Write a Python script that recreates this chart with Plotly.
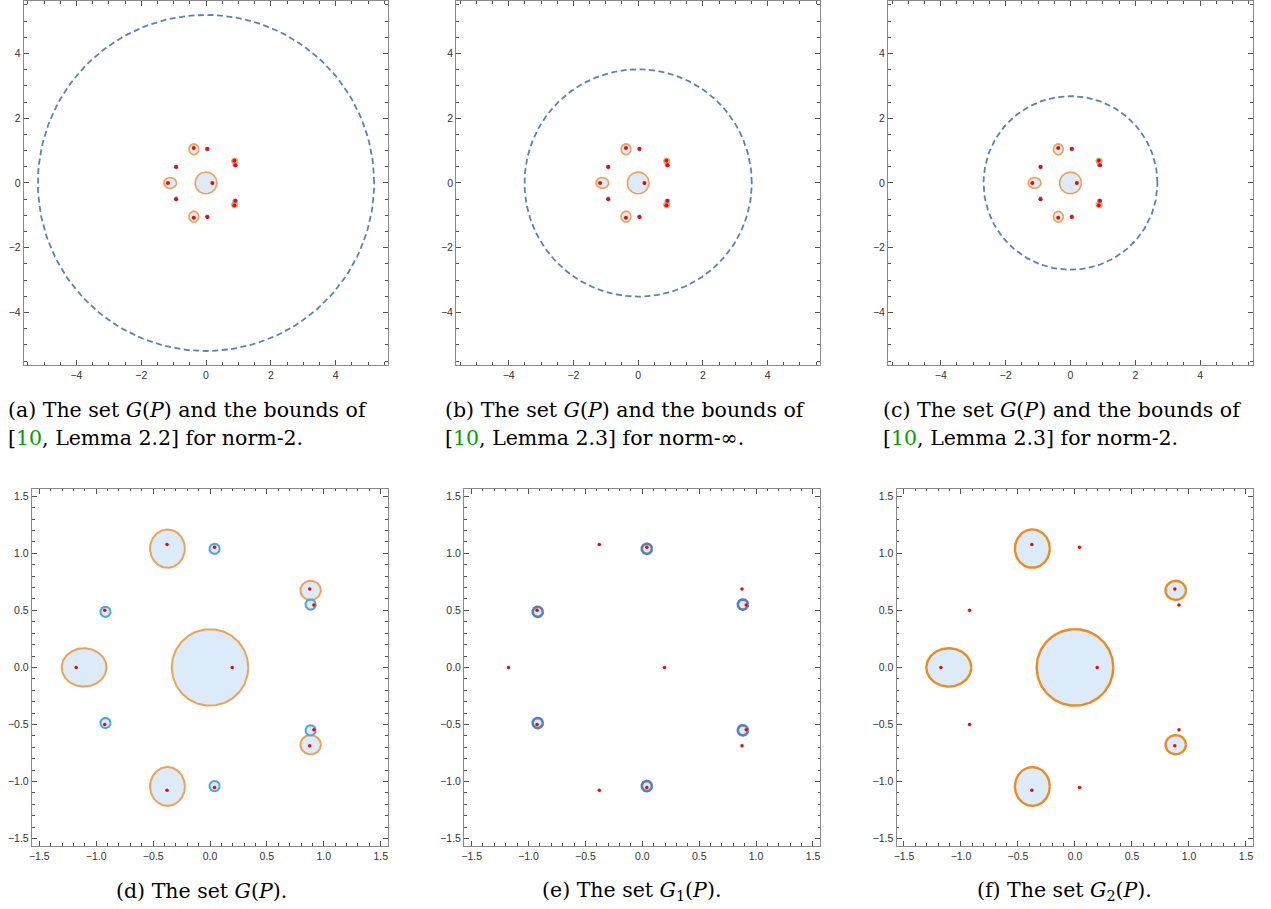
import numpy as np
import plotly.graph_objects as go

# Zeros of P (red dots)
roots_re = [0.195, -1.176, -0.378, -0.378, 0.04, 0.04, -0.925, -0.925, 0.876, 0.876, 0.913, 0.913]
roots_im = [0.0, 0.0, 1.077, -1.077, 1.053, -1.053, 0.5, -0.5, 0.686, -0.686, 0.546, -0.546]

# Components of G2(P): ellipse centres and semi-axes
g2_cx = [0.0, -1.107, -0.374, -0.374, 0.884, 0.884]
g2_cy = [0.0, 0.0, 1.041, -1.043, 0.675, -0.677]
g2_rx = [0.336, 0.197, 0.153, 0.153, 0.090, 0.090]
g2_ry = [0.335, 0.168, 0.168, 0.170, 0.084, 0.084]

# Components of G1(P): small discs
g1_cx = [0.04, 0.04, -0.919, -0.919, 0.884, 0.884]
g1_cy = [1.039, -1.039, 0.487, -0.487, 0.551, -0.551]
g1_r = [0.045, 0.045, 0.045, 0.045, 0.045, 0.045]

# Radii of the root bounds drawn in panels (a), (b), (c)
bound_r = [5.19, 3.51, 2.68]

FILL = "#DCEBFA"
ORANGE_LIGHT = "#F0A24F"
ORANGE_DARK = "#F08A1C"
BLUE_LIGHT = "#4AA8E0"
BLUE_DARK = "#5B80B8"
DASH_BLUE = "#5E81B5"

W, H = 1271, 909

# plot frames in pixels: (left, right, top, bottom)
frames = [
    (21, 386, 0, 364.3),
    (454.3, 819, 0, 364.3),
    (887.3, 1252.7, 0, 364.3),
    (29, 386, 488.3, 846),
    (462.3, 819.3, 488.3, 846),
    (895.7, 1253.3, 488.3, 846),
]

theta = np.linspace(0, 2 * np.pi, 181)


def ellipse_path(cx, cy, rx, ry):
    xs, ys = [], []
    for a, b, u, v in zip(cx, cy, rx, ry):
        xs += list(a + u * np.cos(theta)) + [None]
        ys += list(b + v * np.sin(theta)) + [None]
    return xs, ys


fig = go.Figure()


def add_set(idx, cx, cy, rx, ry, color, width):
    xs, ys = ellipse_path(cx, cy, rx, ry)
    ax = "" if idx == 1 else str(idx)
    fig.add_trace(go.Scatter(
        x=xs, y=ys, mode="lines", fill="toself", fillcolor=FILL,
        line=dict(color=color, width=width), xaxis="x" + ax, yaxis="y" + ax,
        hoverinfo="skip", showlegend=False))


def add_roots(idx, size):
    ax = "" if idx == 1 else str(idx)
    fig.add_trace(go.Scatter(
        x=roots_re, y=roots_im, mode="markers",
        marker=dict(color="#FF0000", size=size, line=dict(width=0)),
        xaxis="x" + ax, yaxis="y" + ax, showlegend=False))


# top row: G(P) with the bound circles
for i in range(3):
    idx = i + 1
    ax = "" if idx == 1 else str(idx)
    add_set(idx, g2_cx, g2_cy, g2_rx, g2_ry, ORANGE_LIGHT, 1.6)
    add_set(idx, g1_cx, g1_cy, g1_r, g1_r, BLUE_LIGHT, 1.6)
    add_roots(idx, 4)
    r = bound_r[i]
    fig.add_trace(go.Scatter(
        x=list(r * np.cos(theta)), y=list(r * np.sin(theta)), mode="lines",
        line=dict(color=DASH_BLUE, width=1.8, dash="6px,3.5px"),
        xaxis="x" + ax, yaxis="y" + ax, hoverinfo="skip", showlegend=False))

# (d) G(P)
add_set(4, g2_cx, g2_cy, g2_rx, g2_ry, ORANGE_LIGHT, 2.0)
add_set(4, g1_cx, g1_cy, g1_r, g1_r, BLUE_LIGHT, 2.0)
add_roots(4, 3.5)
# (e) G1(P)
add_set(5, g1_cx, g1_cy, g1_r, g1_r, BLUE_DARK, 2.6)
add_roots(5, 3.5)
# (f) G2(P)
add_set(6, g2_cx, g2_cy, g2_rx, g2_ry, ORANGE_DARK, 2.4)
add_roots(6, 3.5)

layout = dict(
    width=W, height=H, margin=dict(l=0, r=0, t=0, b=0),
    paper_bgcolor="white", plot_bgcolor="white", showlegend=False,
)

tickfont = dict(family="Liberation Sans, Arial, sans-serif", size=10.5, color="#333333")

for k, (l, r, t, b) in enumerate(frames):
    idx = k + 1
    ax = "" if idx == 1 else str(idx)
    top_row = idx <= 3
    rng = [-5.62, 5.62] if top_row else [-1.565, 1.565]
    dt, mdt = (2, 0.5) if top_row else (0.5, 0.1)
    fmt = "d" if top_row else ".1f"
    common = dict(
        range=rng, dtick=dt, tick0=0, tickformat=fmt,
        showgrid=False, zeroline=False,
        showline=True, linecolor="#8A8A8A", linewidth=1.3, mirror="ticks",
        ticks="inside", ticklen=5, tickwidth=1, tickcolor="#555555",
        minor=dict(ticks="inside", ticklen=2.5, dtick=mdt, tick0=0,
                   tickcolor="#555555", tickwidth=1, showgrid=False),
        tickfont=tickfont, fixedrange=True,
    )
    layout["xaxis" + ax] = dict(common, domain=[l / W, r / W], anchor="y" + ax)
    layout["yaxis" + ax] = dict(common, domain=[1 - b / H, 1 - t / H], anchor="x" + ax)

fig.update_layout(**layout)

cap_font = dict(family="DejaVu Serif, serif", size=20.5, color="black")
GREEN = "#00A000"
top_caps = [
    ("(a) The set <i>G</i>(<i>P</i>) and the bounds of",
     "[<span style='color:%s'>10</span>, Lemma 2.2] for norm-2." % GREEN, 3),
    ("(b) The set <i>G</i>(<i>P</i>) and the bounds of",
     "[<span style='color:%s'>10</span>, Lemma 2.3] for norm-∞." % GREEN, 441),
    ("(c) The set <i>G</i>(<i>P</i>) and the bounds of",
     "[<span style='color:%s'>10</span>, Lemma 2.3] for norm-2." % GREEN, 880),
]
for l1, l2, x0 in top_caps:
    for line, yc in ((l1, 409), (l2, 437)):
        fig.add_annotation(
            text=line, xref="paper", yref="paper", x=x0 / W, y=1 - yc / H,
            xanchor="left", yanchor="middle", showarrow=False, font=cap_font)

bottom_caps = [
    ("(d) The set <i>G</i>(<i>P</i>).", 199),
    ("(e) The set <i>G</i><sub>1</sub>(<i>P</i>).", 630),
    ("(f) The set <i>G</i><sub>2</sub>(<i>P</i>).", 1064),
]
for txt, xc in bottom_caps:
    fig.add_annotation(
        text=txt, xref="paper", yref="paper", x=xc / W, y=1 - 891 / H,
        xanchor="center", yanchor="middle", showarrow=False, font=cap_font)

fig.write_html("out.html")
